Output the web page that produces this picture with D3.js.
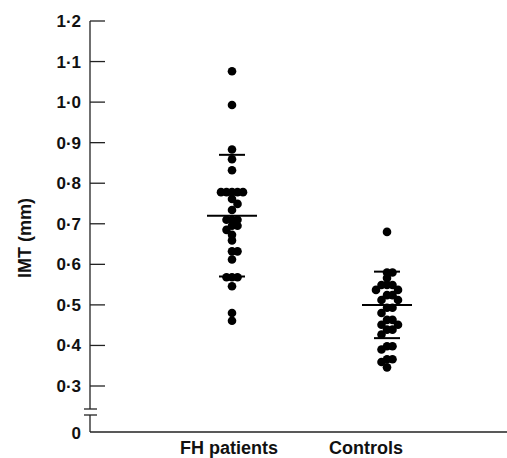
<!DOCTYPE html>
<html>
<head>
<meta charset="utf-8">
<script src="https://cdn.jsdelivr.net/npm/d3@7"></script>
<style>
  body { margin: 0; background: #fff; }
  svg text { font-family: "Liberation Sans", Arial, Helvetica, sans-serif; fill: #111; }
</style>
</head>
<body>
<svg id="chart" width="507" height="458"></svg>
<script>
'use strict'

// groups shown on the x axis
const groups = ['FH patients', 'Controls']

// IMT readings (mm)
const fhValues = [1.076, 0.993, 0.883, 0.859, 0.832,
  0.778, 0.778, 0.778, 0.778, 0.778,
  0.761, 0.749, 0.734, 0.71, 0.71, 0.71, 0.695, 0.695, 0.685, 0.673, 0.659,
  0.632, 0.632, 0.612, 0.568, 0.568, 0.568, 0.546, 0.48, 0.461]
const controlValues = [0.68, 0.58, 0.58, 0.566, 0.549, 0.549, 0.549,
  0.537, 0.537, 0.524, 0.524, 0.512, 0.512, 0.493, 0.493, 0.48,
  0.463, 0.463, 0.451, 0.451, 0.439, 0.439, 0.427,
  0.398, 0.398, 0.39, 0.366, 0.366, 0.359, 0.346]

// mean and SD bars as drawn
const groupMeans = [0.72, 0.50]
const groupSDs = [0.15, 0.082]

// y tick labels
const yTicks = [0.3, 0.4, 0.5, 0.6, 0.7, 0.8, 0.9, 1.0, 1.1, 1.2]

const svg = d3.select('#chart')
const axisX = 90,
  baseY = 432,       // where the broken axis reaches 0
  breakTop = 409,
  breakGap = 6,
  r = 4.3

const y = d3.scaleLinear().domain([0.3, 1.2]).range([386, 21])
const x = d3.scalePoint().domain(groups).range([232, 387])
// the printed labels sit a little left of the dot columns
const xLabel = d3.scalePoint().domain(groups).range([229, 366])

const fmt = d => d3.format('.1f')(d).replace('.', '\u00b7')

// y axis, in two pieces around the break
svg.append('line')
  .attr('x1', axisX).attr('x2', axisX)
  .attr('y1', y(1.2)).attr('y2', breakTop)
  .attr('stroke', '#222').attr('stroke-width', 1.3)
svg.append('line')
  .attr('x1', axisX).attr('x2', axisX)
  .attr('y1', breakTop + breakGap).attr('y2', baseY)
  .attr('stroke', '#222').attr('stroke-width', 1.3)
svg.selectAll('.brk')
  .data([breakTop, breakTop + breakGap])
  .enter().append('line')
  .attr('class', 'brk')
  .attr('x1', axisX - 6).attr('x2', axisX + 7)
  .attr('y1', d => d).attr('y2', d => d)
  .attr('stroke', '#222').attr('stroke-width', 1.3)

// x axis line
svg.append('line')
  .attr('x1', axisX).attr('x2', 507)
  .attr('y1', baseY).attr('y2', baseY)
  .attr('stroke', '#222').attr('stroke-width', 1.3)

// ticks point inwards
const ticks = svg.append('g').selectAll('g')
  .data(yTicks)
  .enter().append('g')
  .attr('transform', d => 'translate(' + axisX + ',' + y(d) + ')')
ticks.append('line')
  .attr('x2', 15)
  .attr('stroke', '#222').attr('stroke-width', 1.3)
ticks.append('text')
  .attr('x', -9).attr('dy', '0.35em')
  .attr('text-anchor', 'end')
  .attr('font-size', 17).attr('font-weight', 'bold')
  .text(fmt)

svg.append('text')
  .attr('x', axisX - 9).attr('y', baseY + 1).attr('dy', '0.35em')
  .attr('text-anchor', 'end')
  .attr('font-size', 17).attr('font-weight', 'bold')
  .text('0')

// axis titles
svg.append('text')
  .attr('transform', 'translate(31,' + 238 + ') rotate(-90)')
  .attr('text-anchor', 'middle')
  .attr('font-size', 18).attr('font-weight', 'bold')
  .text('IMT (mm)')

svg.selectAll('.xlab')
  .data(groups)
  .enter().append('text')
  .attr('class', 'xlab')
  .attr('x', d => xLabel(d))
  .attr('y', baseY + 22)
  .attr('text-anchor', 'middle')
  .attr('font-size', 18).attr('font-weight', 'bold')
  .text(d => d)

// spread equal values sideways so the dots don't sit on top of each other
function dodge(values, step) {
  const placed = []
  values.slice().sort((a, b) => b - a).forEach(v => {
    const cy = y(v)
    for (let k = 0; k < 20; k++) {
      const off = (k % 2 ? 1 : -1) * Math.ceil(k / 2) * step
      const hit = placed.some(p => Math.hypot(p.dx - off, p.cy - cy) < step)
      if (!hit) { placed.push({ v: v, cy: cy, dx: off }); break }
    }
  })
  return placed
}

const series = [fhValues, controlValues]
series.forEach((vals, i) => {
  const cx = x(groups[i])
  svg.append('g').selectAll('circle')
    .data(dodge(vals, 5.5))
    .enter().append('circle')
    .attr('cx', d => cx + d.dx)
    .attr('cy', d => d.cy)
    .attr('r', r)
    .attr('fill', '#000')

  const m = groupMeans[i], s = groupSDs[i]
  const bars = [[m, 25], [m + s, 13], [m - s, 13]]
  svg.append('g').selectAll('line')
    .data(bars)
    .enter().append('line')
    .attr('x1', d => cx - d[1]).attr('x2', d => cx + d[1])
    .attr('y1', d => y(d[0])).attr('y2', d => y(d[0]))
    .attr('stroke', '#000').attr('stroke-width', 2)
})
</script>
</body>
</html>
